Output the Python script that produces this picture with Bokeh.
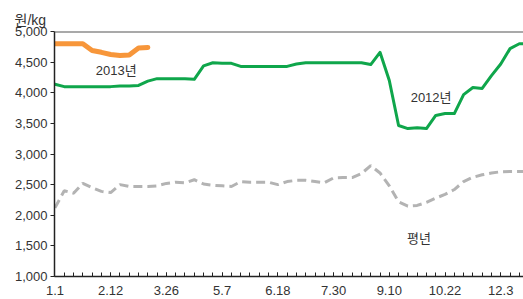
from bokeh.plotting import figure
from bokeh.models import FixedTicker, NumeralTickFormatter, Span, Label, Range1d
from bokeh.embed import file_html
from bokeh.resources import INLINE

# weekly index, week 0 = 1.1
tick_weeks = [0, 6, 12, 18, 24, 30, 36, 42, 48]
tick_labels = ["1.1", "2.12", "3.26", "5.7", "6.18", "7.30", "9.10", "10.22", "12.3"]

y2012 = [4140, 4100, 4100, 4100, 4100, 4100, 4100, 4110, 4110, 4120,
         4190, 4230, 4230, 4230, 4230, 4220, 4440, 4490, 4480, 4480,
         4430, 4430, 4430, 4430, 4430, 4430, 4470, 4490, 4490, 4490,
         4490, 4490, 4490, 4490, 4460, 4660, 4200, 3465, 3415, 3430,
         3415, 3630, 3660, 3660, 3970, 4085, 4070, 4280, 4470, 4720,
         4800, 4800]
y2013 = [4800, 4800, 4800, 4800, 4690, 4660, 4625, 4610, 4615, 4730, 4740]
y_avg = [2120, 2400, 2360, 2520, 2450, 2390, 2370, 2500, 2470, 2470,
         2470, 2480, 2520, 2540, 2530, 2580, 2510, 2490, 2480, 2470,
         2550, 2540, 2540, 2540, 2500, 2550, 2570, 2570, 2550, 2530,
         2610, 2615, 2615, 2680, 2810, 2690, 2480, 2220, 2150, 2160,
         2210, 2280, 2340, 2420, 2550, 2620, 2660, 2690, 2710, 2715,
         2715, 2715]

w2012 = list(range(len(y2012)))
w2013 = list(range(len(y2013)))
wavg = list(range(len(y_avg)))

FONT = "Liberation Sans, Noto Sans CJK KR"
TXT = "#333333"

p = figure(width=523, height=299, output_backend="svg", toolbar_location=None,
           x_range=Range1d(-0.05, 50.45), y_range=Range1d(1000, 5000),
           min_border_left=54, min_border_right=0, min_border_top=31, min_border_bottom=23,
           title="원/kg")
p.outline_line_color = None
p.xgrid.visible = False
p.ygrid.visible = False
p.background_fill_color = "white"
p.border_fill_color = "white"

p.title.align = "left"
p.title.offset = -40
p.title.text_font = FONT
p.title.text_font_size = "14px"
p.title.text_font_style = "normal"
p.title.text_color = TXT
p.title.standoff = 7

# y axis
p.yaxis.ticker = FixedTicker(ticks=[1000, 1500, 2000, 2500, 3000, 3500, 4000, 4500, 5000])
p.yaxis.formatter = NumeralTickFormatter(format="0,0")
p.yaxis.major_tick_out = 4
p.yaxis.major_tick_in = 0
p.yaxis.minor_tick_out = 0
p.yaxis.minor_tick_in = 0
p.yaxis.major_label_standoff = 3
p.yaxis.axis_line_color = "#222222"
p.yaxis.axis_line_width = 1.5
p.yaxis.major_tick_line_color = "#222222"

# x axis
p.xaxis.ticker = FixedTicker(ticks=tick_weeks, minor_ticks=list(range(1, 51)))
p.xaxis.major_label_overrides = {w: l for w, l in zip(tick_weeks, tick_labels)}
p.xaxis.major_tick_in = 4
p.xaxis.major_tick_out = 0
p.xaxis.minor_tick_in = 4
p.xaxis.minor_tick_out = 0
p.xaxis.major_label_standoff = 9
p.xaxis.axis_line_color = "#222222"
p.xaxis.axis_line_width = 1.5
p.xaxis.major_tick_line_color = "#222222"
p.xaxis.minor_tick_line_color = "#222222"

for ax in (p.xaxis, p.yaxis):
    ax.major_label_text_font = FONT
    ax.major_label_text_font_size = "13px"
    ax.major_label_text_color = TXT

p.add_layout(Span(location=5000, dimension="width", line_color="#555555", line_width=2))

p.line(wavg, y_avg, line_color="#b3b3b3", line_width=3, line_dash="9 5")
p.line(w2012, y2012, line_color="#0fa64b", line_width=3, line_join="round", line_cap="round")
p.line(w2013, y2013, line_color="#f7963a", line_width=5, line_join="round", line_cap="round")

for (x, y, t) in [(6.6, 4365, "2013년"), (40.5, 3925, "2012년"), (39.2, 1620, "평년")]:
    p.add_layout(Label(x=x, y=y, text=t, text_align="center", text_baseline="middle",
                       text_font=FONT, text_font_size="13px", text_color=TXT))

open("out.html", "w").write(file_html(p, INLINE))
